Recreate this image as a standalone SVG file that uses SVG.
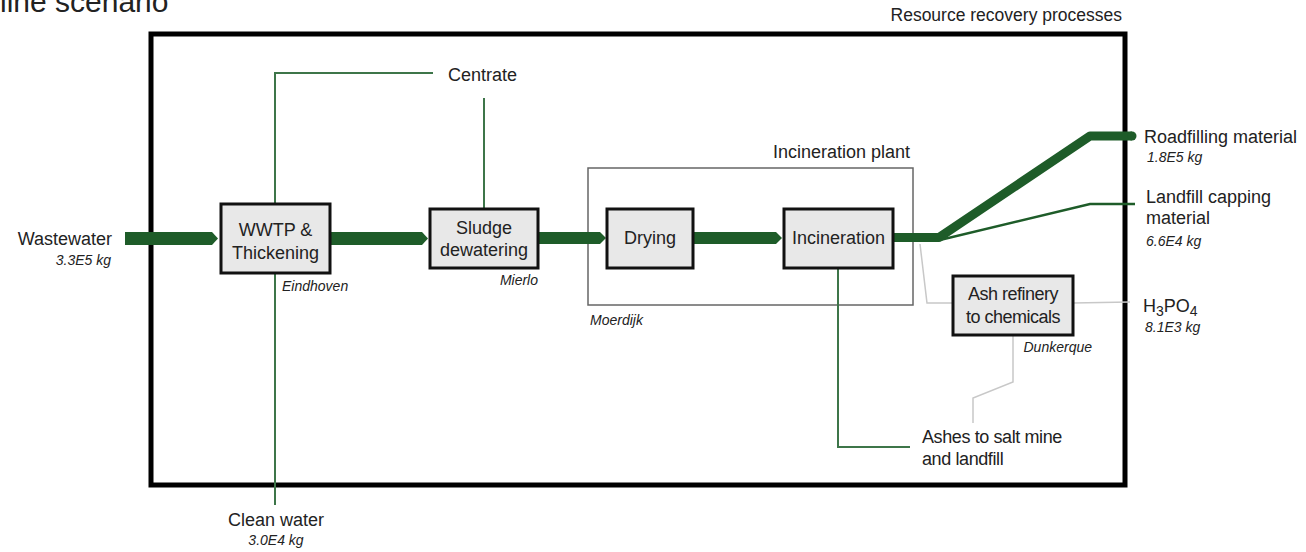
<svg xmlns="http://www.w3.org/2000/svg" width="1306" height="552" viewBox="0 0 1306 552">
<style>
text{font-family:"Liberation Sans",Arial,sans-serif;fill:#222}
.lbl{font-size:18px}
.nt{font-size:18px;text-anchor:middle}
.it{font-size:14px;font-style:italic}
.box{fill:#e8e8e8;stroke:#111;stroke-width:3}
.thick{fill:#1e5c29}
.thin{fill:none;stroke:#3d7549;stroke-width:2}
.gray{fill:none;stroke:#c8c8c8;stroke-width:1.5}
</style>
<rect width="1306" height="552" fill="#fff"/>
<text x="0" y="12" style="font-size:30px">line scenario</text>
<text x="1122" y="21" style="font-size:17.5px;text-anchor:end">Resource recovery processes</text>
<rect x="151" y="34" width="974" height="451" fill="none" stroke="#000" stroke-width="5"/>
<rect x="588" y="168" width="325" height="137" fill="none" stroke="#666" stroke-width="1.5"/>
<text class="lbl" x="910" y="158" text-anchor="end">Incineration plant</text>
<text class="it" x="590" y="325">Moerdijk</text>
<g id="connectors">
<polygon class="thick" points="125,232 212,232 218,238.5 212,245 125,245"/>
<polygon class="thick" points="330,232 422,232 428,238.5 422,245 330,245"/>
<polygon class="thick" points="538,232 600,232 606,238 600,244 538,244"/>
<polygon class="thick" points="693,232 776,232 782,238 776,244 693,244"/>
<polyline points="893,237.5 939,237.5 1090,136 1132,136" fill="none" stroke="#1e5c29" stroke-width="9" stroke-linejoin="round"/>
<circle cx="1132" cy="136" r="4.5" fill="#1e5c29"/>
<polyline points="893,240 940,240 1090,204 1135,204" fill="none" stroke="#1e5c29" stroke-width="2.5"/>
<polyline class="thin" points="275,203 275,73 433,73"/>
<polyline class="thin" points="484,98 484,208"/>
<polyline class="thin" points="275,273 275,505"/>
<polyline class="thin" points="838,268 838,447 910,447"/>
<polyline class="gray" points="920,244 927,303 952,303"/>
<polyline class="gray" points="1073,303 1130,302"/>
<polyline class="gray" points="1013,335 1013,382 973,398 973,423"/>
</g>
<g id="wastewater">
<text class="lbl" x="112" y="245" text-anchor="end">Wastewater</text>
<text class="it" x="111" y="265" text-anchor="end">3.3E5 kg</text>
</g>
<g id="wwtp">
<rect class="box" x="221" y="204" width="109" height="69"/>
<text class="nt" x="275.5" y="236">WWTP &amp;</text>
<text class="nt" x="275.5" y="259">Thickening</text>
<text class="it" x="282" y="291">Eindhoven</text>
</g>
<g id="sludge">
<rect class="box" x="430" y="209" width="108" height="59"/>
<text class="nt" x="484" y="234">Sludge</text>
<text class="nt" x="484" y="256">dewatering</text>
<text class="it" x="538" y="285" text-anchor="end">Mierlo</text>
</g>
<g id="drying">
<rect class="box" x="607" y="209" width="86" height="59"/>
<text class="nt" x="650" y="244">Drying</text>
</g>
<g id="incineration">
<rect class="box" x="784" y="209" width="109" height="59"/>
<text class="nt" x="838.5" y="244">Incineration</text>
</g>
<g id="ashrefinery">
<rect class="box" x="953" y="276" width="120" height="59"/>
<text class="nt" x="1013" y="300" letter-spacing="-0.5">Ash refinery</text>
<text class="nt" x="1013" y="323" letter-spacing="-0.5">to chemicals</text>
<text class="it" x="1092" y="352" text-anchor="end">Dunkerque</text>
</g>
<g id="centrate"><text class="lbl" x="448" y="81">Centrate</text></g>
<g id="cleanwater">
<text class="lbl" x="276" y="526" text-anchor="middle">Clean water</text>
<text class="it" x="276" y="545" text-anchor="middle">3.0E4 kg</text>
</g>
<g id="roadfilling">
<text class="lbl" x="1144" y="143">Roadfilling material</text>
<text class="it" x="1147" y="162">1.8E5 kg</text>
</g>
<g id="landfill">
<text class="lbl" x="1146" y="203">Landfill capping</text>
<text class="lbl" x="1146" y="224">material</text>
<text class="it" x="1146" y="246">6.6E4 kg</text>
</g>
<g id="h3po4">
<text class="lbl" x="1143" y="312">H<tspan dy="4" style="font-size:14px">3</tspan><tspan dy="-4">PO</tspan><tspan dy="4" style="font-size:14px">4</tspan></text>
<text class="it" x="1145" y="332">8.1E3 kg</text>
</g>
<g id="ashes">
<text class="lbl" x="922" y="443" letter-spacing="-0.4">Ashes to salt mine</text>
<text class="lbl" x="922" y="465" letter-spacing="-0.4">and landfill</text>
</g>
</svg>
